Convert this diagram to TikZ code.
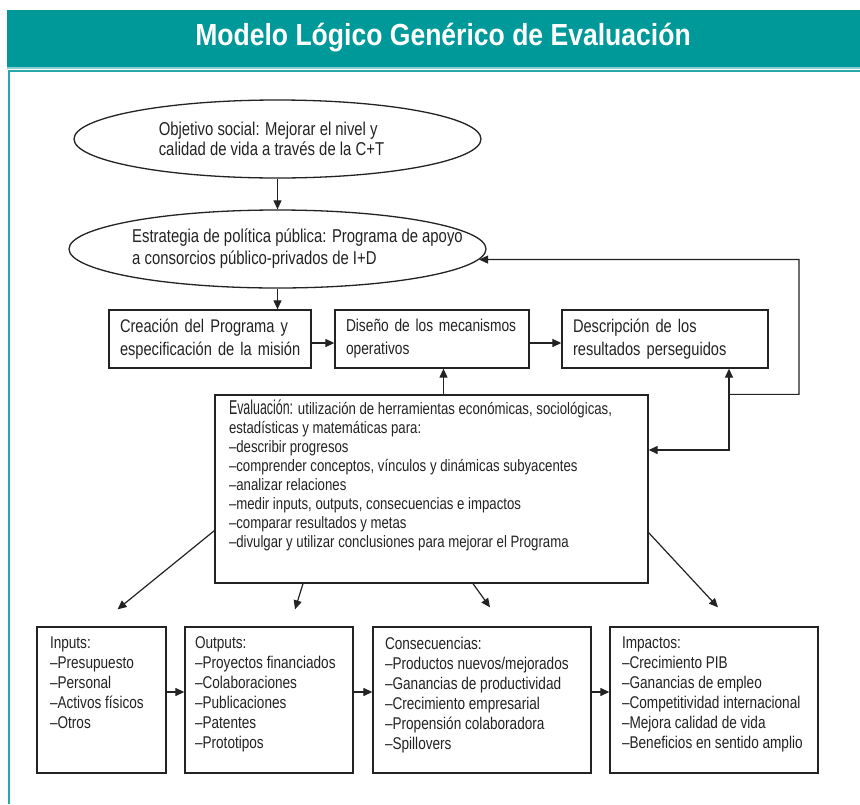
\documentclass[tikz,border=0pt]{standalone}
\usepackage{fontspec}
\setmainfont[FakeStretch=0.8]{Liberation Sans}
\newfontfamily\titlefont[FakeStretch=0.87]{Liberation Sans}
\newfontfamily\headfont[FakeStretch=0.62]{Liberation Sans}
\usetikzlibrary{shapes.geometric,arrows.meta}
\definecolor{hdrteal}{RGB}{0,153,153}
\definecolor{framelight}{RGB}{140,205,210}
\definecolor{inkgray}{RGB}{35,35,35}
\newcommand{\toptext}[3]{\parbox[c][#1][t]{#2}{\raggedright #3}}

\begin{document}
\begin{tikzpicture}[x=1pt,y=1pt,
  every node/.style={inner sep=0pt,text=inkgray},
  oval/.style={ellipse,draw=inkgray,line width=1.3pt},
  ovaltxt/.style={align=left,font=\fontsize{18.6}{20}\selectfont},
  stepbox/.style={rectangle,draw=inkgray,line width=1.3pt,align=left,
    inner xsep=11pt,minimum height=58pt,font=\fontsize{18.3}{23}\selectfont},
  listbox/.style={rectangle,draw=inkgray,line width=1.3pt,inner ysep=10pt,
    font=\fontsize{17}{20}\selectfont},
  arr/.style={draw=inkgray,line width=1.2pt,-{Triangle[length=9pt,width=8pt]}},
  biarr/.style={draw=inkgray,line width=1.2pt,
    {Triangle[length=9pt,width=8pt]}-{Triangle[length=9pt,width=8pt]}}]
\useasboundingbox (0,0) rectangle (860,-804);
\fill[white] (0,0) rectangle (860,-804);
\fill[hdrteal] (7,-10) rectangle (860,-67);
\draw[framelight,line width=1.5pt] (7,-68) -- (860,-68);
\draw[hdrteal!85!white,line width=2pt] (860,-70.5) -- (8.5,-70.5) -- (8.5,-804);
\node[text=white,font=\titlefont\bfseries\fontsize{30.5}{32}\selectfont] (title) at (443,-38) {Modelo Lógico Genérico de Evaluación};

\node[oval,minimum width=407pt,minimum height=78pt,
  label={[ovaltxt,xshift=-6pt]center:{Objetivo social: Mejorar el nivel y\\calidad de vida a través de la C+T}}] (obj) at (277.5,-139) {};
\node[oval,minimum width=417pt,minimum height=78pt,
  label={[ovaltxt,xshift=20pt,font=\fontsize{18.6}{22}\selectfont]center:{Estrategia de política pública: Programa de apoyo\\a consorcios público-privados de I+D}}] (strat) at (277.5,-249) {};

\node[stepbox,minimum width=202pt,text width=180pt] (creacion) at (210,-339) {\mbox{Creación del Programa y}\\\mbox{especificación de la misión}};
\node[stepbox,minimum width=194pt,text width=172pt,font=\fontsize{17.2}{23}\selectfont] (diseno) at (432,-339) {\mbox{Diseño de los mecanismos}\\\mbox{operativos}};
\node[stepbox,minimum width=206pt,text width=184pt] (descr) at (665,-339) {\mbox{Descripción de los}\\\mbox{resultados perseguidos}};

\node[listbox,inner xsep=14pt,inner ysep=5pt,font=\fontsize{16.5}{19}\selectfont] (eval) at (431.5,-489) {\toptext{178pt}{405pt}{{\headfont\fontsize{20}{19}\selectfont Evaluación:} utilización de herramientas económicas, sociológicas,\\estadísticas y matemáticas para:\\–describir progresos\\–comprender conceptos, vínculos y dinámicas subyacentes\\–analizar relaciones\\–medir inputs, outputs, consecuencias e impactos\\–comparar resultados y metas\\–divulgar y utilizar conclusiones para mejorar el Programa}};

\node[listbox,inner xsep=13pt] (inputs) at (101.5,-700) {\toptext{126pt}{103pt}{Inputs:\\–Presupuesto\\–Personal\\–Activos físicos\\–Otros}};
\node[listbox,inner xsep=10pt] (outputs) at (269,-700) {\toptext{126pt}{148pt}{Outputs:\\–Proyectos financiados\\–Colaboraciones\\–Publicaciones\\–Patentes\\–Prototipos}};
\node[listbox,inner xsep=12pt] (cons) at (482,-700) {\toptext{126pt}{194pt}{Consecuencias:\\–Productos nuevos/mejorados\\–Ganancias de productividad\\–Crecimiento empresarial\\–Propensión colaboradora\\–Spillovers}};
\node[listbox,inner xsep=12pt] (impact) at (714,-700) {\toptext{126pt}{184pt}{Impactos:\\–Crecimiento PIB\\–Ganancias de empleo\\–Competitividad internacional\\–Mejora calidad de vida\\–Beneficios en sentido amplio}};

\coordinate (split) at (729,-450);
\coordinate (back) at (799,-259.5);
\draw[arr] (obj) -- (strat);
\draw[arr] (strat.south) -- (strat.south |- creacion.north);
\draw[arr] ([yshift=-4pt]creacion.east) -- ([yshift=-4pt]diseno.west);
\draw[arr] ([yshift=-4pt]diseno.east) -- ([yshift=-4pt]descr.west);
\draw[arr] ([xshift=12pt]eval.north) -- ([xshift=12pt]eval.north |- diseno.south);
\draw[biarr] (eval.east |- split) -- (split) -- (split |- descr.south);
\draw[arr] (split |- eval.north) -| (back) -- (strat.357);
\draw[arr] ([yshift=53pt]eval.south west) -- ([xshift=16pt,yshift=17pt]inputs.north);
\draw[arr] ([xshift=-128.5pt]eval.south) -- ([xshift=26pt,yshift=17pt]outputs.north);
\draw[arr] ([xshift=41.5pt]eval.south) -- ([xshift=8pt,yshift=19pt]cons.north);
\draw[arr] ([yshift=51pt]eval.south east) -- ([xshift=4pt,yshift=19pt]impact.north);
\draw[arr] ([yshift=8pt]inputs.east) -- ([yshift=8pt]outputs.west);
\draw[arr] ([yshift=8pt]outputs.east) -- ([yshift=8pt]cons.west);
\draw[arr] ([yshift=8pt]cons.east) -- ([yshift=8pt]impact.west);
\end{tikzpicture}
\end{document}
